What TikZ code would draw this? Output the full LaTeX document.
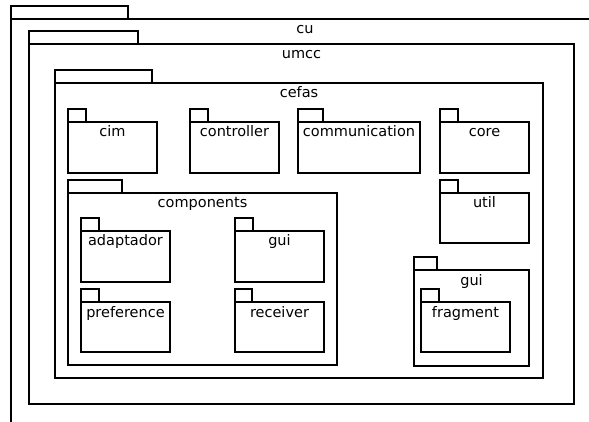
\documentclass[tikz,border=0pt]{standalone}
\usepackage{fontspec}
\setmainfont{DejaVu Sans}
\usetikzlibrary{positioning}

% A UML package: tab on top-left, body box, name near the top of the body
\tikzset{
  pkgbody/.style={draw, line width=1.2pt, anchor=north west, inner sep=0pt, outer sep=0pt},
  pkgtab/.style={draw, line width=1.2pt, anchor=south west, inner sep=0pt, outer sep=0pt, minimum height=13pt},
  pkglabel/.style={anchor=base, inner sep=0pt, font=\fontsize{14.5}{17}\selectfont}
}
\newcommand\umlpkg[7]{%
  \node[pkgbody, minimum width=#4pt, minimum height=#5pt] (#1) at (#2,#3) {};
  \node[pkgtab, minimum width=#6pt] (#1-tab) at (#1.north west) {};
  \node[pkglabel] (#1-label) at ([yshift=-15pt]#1.north) {#7};
}

\begin{document}
\begin{tikzpicture}[x=1pt, y=-1pt]
  \fill[white] (0,0) rectangle (589,422);
  \clip (0,0) rectangle (589,422);

  % outer namespaces
  \umlpkg{cu}{11}{19}{588}{440}{117}{cu}
  \umlpkg{umcc}{29}{44}{545}{360}{109}{umcc}
  \umlpkg{cefas}{55}{83}{488}{295}{97}{cefas}

  % top row
  \umlpkg{cim}{68}{122}{89}{51}{18}{cim}
  \umlpkg{controller}{190}{122}{89}{51}{18}{controller}
  \umlpkg{communication}{298}{122}{122}{51}{25}{communication}
  \umlpkg{core}{440}{122}{89}{51}{18}{core}
  \umlpkg{util}{440}{193}{89}{50}{18}{util}

  % components and its sub-packages
  \umlpkg{components}{68}{193}{269}{172}{54}{components}
  \umlpkg{adaptador}{81}{231}{89}{51}{18}{adaptador}
  \umlpkg{compgui}{235}{231}{89}{51}{18}{gui}
  \umlpkg{preference}{81}{302}{89}{50}{18}{preference}
  \umlpkg{receiver}{235}{302}{89}{50}{17}{receiver}

  % gui and fragment
  \umlpkg{gui}{414}{270}{115}{96}{23}{gui}
  \umlpkg{fragment}{421}{302}{89}{50}{18}{fragment}
\end{tikzpicture}
\end{document}
